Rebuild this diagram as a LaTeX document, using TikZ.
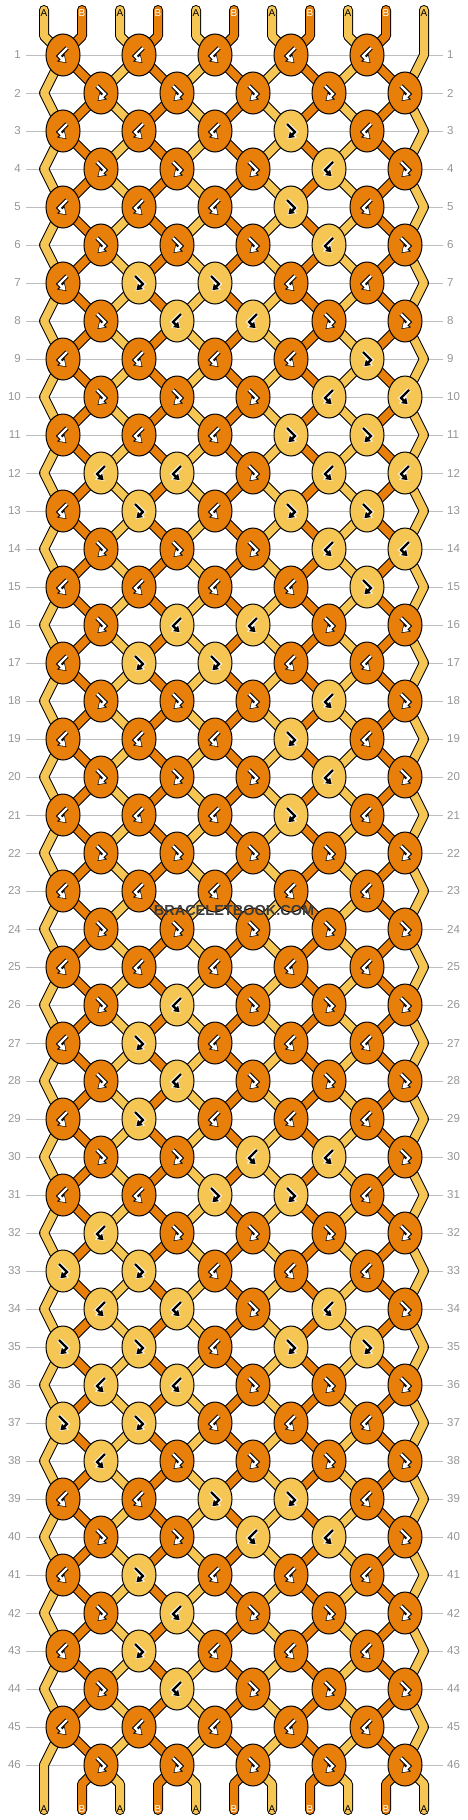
\documentclass[tikz,border=0pt]{standalone}
\usepackage{fontspec}
\setmainfont{Liberation Sans}
\usetikzlibrary{shapes.geometric,arrows.meta}
\definecolor{orng}{RGB}{231,127,10}
\definecolor{yel}{RGB}{246,198,84}
\definecolor{rowline}{RGB}{190,190,190}
\definecolor{rownum}{RGB}{150,150,150}
\definecolor{wmark}{RGB}{60,60,60}
\pgfdeclarelayer{paper}
\pgfdeclarelayer{lines}
\pgfdeclarelayer{strings}
\pgfsetlayers{paper,lines,strings,main}
\tikzset{
  knotbase/.style={ellipse, draw=black, line width=1pt, minimum width=34pt, minimum height=42pt, inner sep=0pt},
  knotO/.style={knotbase, fill=orng},
  knotY/.style={knotbase, fill=yel},
  strA/.style={draw=black, line width=1pt, double=yel, double distance=8pt, line cap=round, line join=round},
  strB/.style={strA, double=orng},
  rnum/.style={text=rownum, font=\fontsize{11.5}{13}\selectfont},
  lblA/.style={text=black, font=\fontsize{10}{11}\selectfont, inner sep=0pt},
  lblB/.style={lblA, text=white},
  rline/.style={draw=rowline, line width=1pt},
  gout/.style={line width=4.4pt, line cap=square, line join=miter, -{Triangle[length=8pt,width=10pt]}},
  gin/.style={line width=2.4pt, line cap=butt, line join=miter, shorten >=1.1pt, -{Triangle[length=5.6pt,width=7pt]}},
  wm/.style={text=wmark, font=\bfseries\fontsize{14.5}{16}\selectfont, inner sep=1pt}
}
\newcommand\glyphBF[1]{%
  \draw[gout,\go] (#1.center) ++(4,-7) -- ++(-8,8) -- ++(7.5,7);
  \draw[gin,\gc] (#1.center) ++(4,-7) -- ++(-8,8) -- ++(7.5,7);}
\newcommand\glyphFB[1]{%
  \draw[gout,\go] (#1.center) ++(-4,-7) -- ++(8,8) -- ++(-7.5,7);
  \draw[gin,\gc] (#1.center) ++(-4,-7) -- ++(8,8) -- ++(-7.5,7);}
\newcommand\kn[3]{%
  \pgfmathsetmacro\xx{63+76*(#2-1)+38*(1-\pp)}%
  \node[knot#3] (k-#1-#2) at (\xx,\yy) {};%
  \if#3O\def\gc{white}\def\go{black}\else\def\gc{black}\def\go{white}\fi
  \ifnum\pp=1 \if#3O\glyphBF{k-#1-#2}\else\glyphFB{k-#1-#2}\fi
  \else \if#3O\glyphFB{k-#1-#2}\else\glyphBF{k-#1-#2}\fi\fi}
\newcommand\krow[6]{%
  \pgfmathtruncatemacro\pp{mod(#1,2)}%
  \pgfmathsetmacro\yy{55+38*(#1-1)}%
  \kn{#1}{1}{#2}\kn{#1}{2}{#3}\kn{#1}{3}{#4}\kn{#1}{4}{#5}\kn{#1}{5}{#6}}
\begin{document}
\begin{tikzpicture}[x=1pt,y=-1pt]
\useasboundingbox (0,0) rectangle (468,1820);
\begin{pgfonlayer}{paper}
\fill[white] (0,0) rectangle (468,1820);
\end{pgfonlayer}
% string end points
\foreach \i in {1,...,11}{
  \pgfmathsetmacro\sx{44+38*(\i-1)}
  \coordinate (t-\i) at (\sx,10);
  \coordinate (tb-\i) at (\sx,36);
  \coordinate (bb-\i) at (\sx,1784);
  \coordinate (b-\i) at (\sx,1810);
}
\foreach \r in {1,...,46}{
  \pgfmathsetmacro\ey{55+38*(\r-1)}
  \coordinate (eL-\r) at (44,\ey);
  \coordinate (eR-\r) at (424,\ey);
}
% row numbers and guide lines
\foreach \r in {1,...,46}{
  \pgfmathsetmacro\ry{55+38*(\r-1)}
  \node[rnum, anchor=east, inner sep=5pt] (nl-\r) at (26,\ry) {\r};
  \node[rnum, anchor=west, inner sep=4pt] (nr-\r) at (443,\ry) {\r};
  \begin{pgfonlayer}{lines}
  \draw[rline] (nl-\r.east) -- (nr-\r.west);
  \end{pgfonlayer}
}
% knots
\krow{1}{O}{O}{O}{O}{O}
\krow{2}{O}{O}{O}{O}{O}
\krow{3}{O}{O}{O}{Y}{O}
\krow{4}{O}{O}{O}{Y}{O}
\krow{5}{O}{O}{O}{Y}{O}
\krow{6}{O}{O}{O}{Y}{O}
\krow{7}{O}{Y}{Y}{O}{O}
\krow{8}{O}{Y}{Y}{O}{O}
\krow{9}{O}{O}{O}{O}{Y}
\krow{10}{O}{O}{O}{Y}{Y}
\krow{11}{O}{O}{O}{Y}{Y}
\krow{12}{Y}{Y}{O}{Y}{Y}
\krow{13}{O}{Y}{O}{Y}{Y}
\krow{14}{O}{O}{O}{Y}{Y}
\krow{15}{O}{O}{O}{O}{Y}
\krow{16}{O}{Y}{Y}{O}{O}
\krow{17}{O}{Y}{Y}{O}{O}
\krow{18}{O}{O}{O}{Y}{O}
\krow{19}{O}{O}{O}{Y}{O}
\krow{20}{O}{O}{O}{Y}{O}
\krow{21}{O}{O}{O}{Y}{O}
\krow{22}{O}{O}{O}{O}{O}
\krow{23}{O}{O}{O}{O}{O}
\krow{24}{O}{O}{O}{O}{O}
\krow{25}{O}{O}{O}{O}{O}
\krow{26}{O}{Y}{O}{O}{O}
\krow{27}{O}{Y}{O}{O}{O}
\krow{28}{O}{Y}{O}{O}{O}
\krow{29}{O}{Y}{O}{O}{O}
\krow{30}{O}{O}{Y}{Y}{O}
\krow{31}{O}{O}{Y}{Y}{O}
\krow{32}{Y}{O}{O}{O}{O}
\krow{33}{Y}{Y}{O}{O}{O}
\krow{34}{Y}{Y}{O}{Y}{O}
\krow{35}{Y}{Y}{O}{Y}{Y}
\krow{36}{Y}{Y}{O}{O}{O}
\krow{37}{Y}{Y}{O}{O}{O}
\krow{38}{Y}{O}{O}{O}{O}
\krow{39}{O}{O}{Y}{Y}{O}
\krow{40}{O}{O}{Y}{Y}{O}
\krow{41}{O}{Y}{O}{O}{O}
\krow{42}{O}{Y}{O}{O}{O}
\krow{43}{O}{Y}{O}{O}{O}
\krow{44}{O}{Y}{O}{O}{O}
\krow{45}{O}{O}{O}{O}{O}
\krow{46}{O}{O}{O}{O}{O}
% strings
\begin{pgfonlayer}{strings}
\foreach \i in {1,...,10}{
  \pgfmathtruncatemacro\kk{(\i+1)/2}
  \pgfmathtruncatemacro\ss{mod(\i,2)}
  \ifnum\ss=1 \def\sty{strA}\else\def\sty{strB}\fi
  \draw[\sty] (t-\i) -- (tb-\i) -- (k-1-\kk.center);
}
\draw[strA] (t-11) -- (eR-1) -- (k-2-5.center);
\foreach \r in {1,...,45}{
  \pgfmathtruncatemacro\rn{\r+1}
  \pgfmathtruncatemacro\rnn{\r+2}
  \pgfmathtruncatemacro\rpar{mod(\r,2)}
  \foreach \k in {1,...,5}{
    \pgfmathtruncatemacro\km{\k-1}
    \pgfmathtruncatemacro\kp{\k+1}
    \ifnum\rpar=1
      \ifnum\k=1
        \ifnum\r<45
          \draw[strA] (k-\r-1.center) -- (eL-\rn) -- (k-\rnn-1.center);
        \else
          \draw[strA] (k-\r-1.center) -- (eL-\rn) -- (b-1);
        \fi
      \else
        \draw[strA] (k-\r-\k.center) -- (k-\rn-\km.center);
      \fi
      \draw[strB] (k-\r-\k.center) -- (k-\rn-\k.center);
    \else
      \draw[strB] (k-\r-\k.center) -- (k-\rn-\k.center);
      \ifnum\k=5
        \draw[strA] (k-\r-5.center) -- (eR-\rn) -- (k-\rnn-5.center);
      \else
        \draw[strA] (k-\r-\k.center) -- (k-\rn-\kp.center);
      \fi
    \fi
  }
}
\foreach \k in {1,...,5}{
  \pgfmathtruncatemacro\ia{2*\k}
  \pgfmathtruncatemacro\ib{2*\k+1}
  \draw[strB] (k-46-\k.center) -- (bb-\ia) -- (b-\ia);
  \draw[strA] (k-46-\k.center) -- (bb-\ib) -- (b-\ib);
}
\end{pgfonlayer}
% string labels
\foreach \i in {1,...,11}{
  \pgfmathsetmacro\sx{44+38*(\i-1)}
  \pgfmathtruncatemacro\ss{mod(\i,2)}
  \ifnum\ss=1
    \node[lblA] (la-\i) at (\sx,13) {A};
    \node[lblA] (lb-\i) at (\sx,1809) {A};
  \else
    \node[lblB] (la-\i) at (\sx,13) {B};
    \node[lblB] (lb-\i) at (\sx,1809) {B};
  \fi
}
\node[wm] (wm) at (234,910) {BRACELETBOOK.COM};
\end{tikzpicture}
\end{document}
